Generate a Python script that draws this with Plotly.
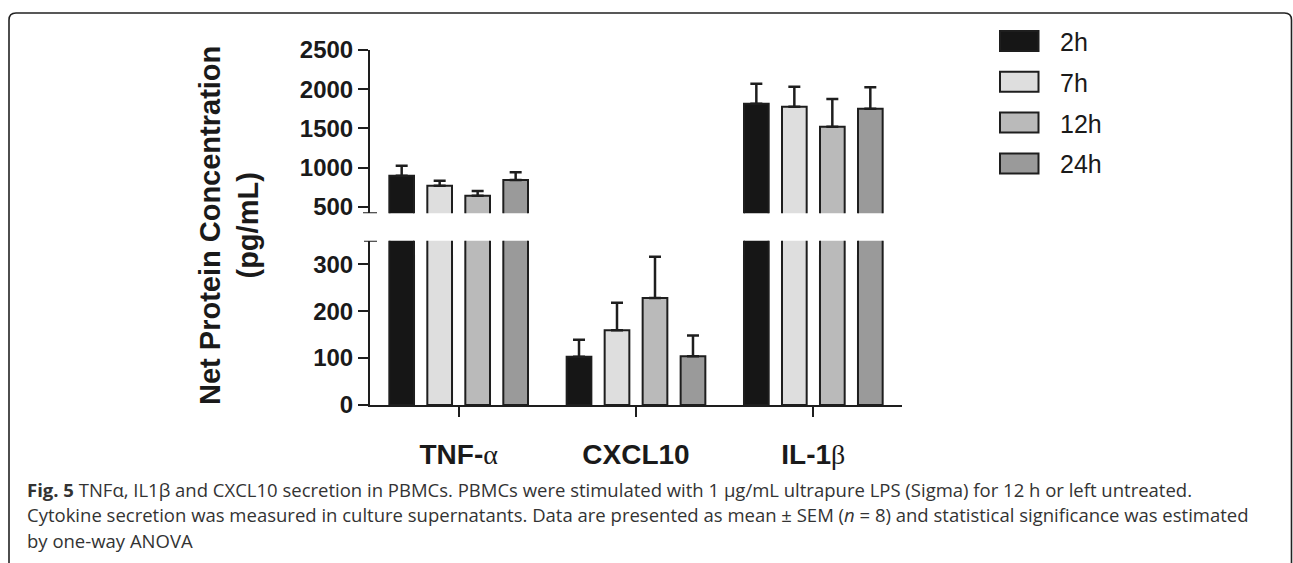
import plotly.graph_objects as go

# ---------------- data ----------------
cytokines = ["TNF-α", "CXCL10", "IL-1β"]
cytokine_labels = [
    "TNF-<span style=\"font-family:Liberation Serif;font-weight:normal\">α</span>",
    "CXCL10",
    "IL-1<span style=\"font-family:Liberation Serif;font-weight:normal\">β</span>",
]
time_points = ["2h", "7h", "12h", "24h"]

mean_2h = [896, 103, 1815]
mean_7h = [768, 159, 1776]
mean_12h = [640, 228, 1521]
mean_24h = [841, 104, 1751]

sem_2h = [127, 36, 255]
sem_7h = [64, 59, 256]
sem_12h = [60, 88, 354]
sem_24h = [98, 44, 273]

lower_ticks = [0, 100, 200, 300]
upper_ticks = [500, 1000, 1500, 2000, 2500]

caption_lines = [
    "<b>Fig. 5</b> TNFα, IL1β and CXCL10 secretion in PBMCs. PBMCs were stimulated with 1 μg/mL ultrapure LPS (Sigma) for 12 h or left untreated.",
    "Cytokine secretion was measured in culture supernatants. Data are presented as mean ± SEM (<i>n</i> = 8) and statistical significance was estimated",
    "by one-way ANOVA",
]

means = [mean_2h, mean_7h, mean_12h, mean_24h]
sems = [sem_2h, sem_7h, sem_12h, sem_24h]
colors = ["#161616", "#dedede", "#bababa", "#9a9a9a"]

# ---------------- geometry ----------------
W, H = 1293, 563
INK = "#1e1e1e"


def px(x):
    return x / W


def py(y):
    return 1 - y / H


LOW_RANGE = [0, 350]
UP_RANGE = [416, 2500]

fig = go.Figure()
for i, tp in enumerate(time_points):
    for yax in ["y", "y2"]:
        fig.add_trace(go.Bar(
            x=cytokines, y=means[i], name=tp,
            xaxis="x", yaxis=yax,
            marker=dict(color=colors[i], line=dict(color=INK, width=2)),
            error_y=dict(type="data", symmetric=False, array=sems[i],
                         arrayminus=[0] * len(sems[i]),
                         color=INK, thickness=2.5, width=6),
            showlegend=False,
        ))

axis_common = dict(showline=True, linecolor=INK, linewidth=2, ticks="outside",
                   ticklen=10, tickwidth=2, tickcolor=INK, showgrid=False,
                   zeroline=False, automargin=False,
                   tickfont=dict(family="Liberation Sans", size=24, color="#1a1a1a", weight="bold"))

fig.update_layout(
    width=W, height=H, autosize=False,
    margin=dict(l=0, r=0, t=0, b=0, pad=0, autoexpand=False),
    paper_bgcolor="white", plot_bgcolor="white",
    barmode="group", bargap=0.143, bargroupgap=0.35,
    xaxis=dict(domain=[px(370), px(902)], range=[-0.5, 2.5], type="category",
               anchor="y", tickvals=cytokines, ticktext=cytokine_labels,
               ticklabelstandoff=13,
               **{k: v for k, v in axis_common.items() if k != "tickfont"},
               tickfont=dict(family="Liberation Sans", size=28, color="#1a1a1a", weight="bold")),
    yaxis=dict(domain=[py(405), py(240.7)], range=LOW_RANGE, tickvals=lower_ticks,
               anchor="x", **axis_common),
    yaxis2=dict(domain=[py(213.3), py(50)], range=UP_RANGE, tickvals=upper_ticks,
                anchor="x", **axis_common),
    showlegend=False,
)

shapes = []
# axis break marks
shapes.append(dict(type="line", xref="paper", yref="y2", x0=px(363), x1=px(377),
                   y0=UP_RANGE[0], y1=UP_RANGE[0], line=dict(color=INK, width=2)))
shapes.append(dict(type="line", xref="paper", yref="y", x0=px(364), x1=px(377),
                   y0=LOW_RANGE[1], y1=LOW_RANGE[1], line=dict(color=INK, width=2)))

# custom legend
annotations = []
for i, tp in enumerate(time_points):
    cy = 41 + i * 40.8
    shapes.append(dict(type="rect", xref="paper", yref="paper",
                       x0=px(1000), x1=px(1038.5), y0=py(cy + 10), y1=py(cy - 10),
                       fillcolor=colors[i], line=dict(color=INK, width=2)))
    annotations.append(dict(xref="paper", yref="paper", x=px(1058), y=py(cy + 1),
                            xanchor="left", yanchor="middle", showarrow=False, text=tp,
                            font=dict(family="Liberation Sans", size=25, color="#1a1a1a")))

# frame (rounded box)
r = 7
fx0, fx1, fy0 = 9, 1291.5, 13
path = (f"M {px(fx0)},{py(H + 5)} L {px(fx0)},{py(fy0 + r)} "
        f"Q {px(fx0)},{py(fy0)} {px(fx0 + r)},{py(fy0)} "
        f"L {px(fx1 - r)},{py(fy0)} Q {px(fx1)},{py(fy0)} {px(fx1)},{py(fy0 + r)} "
        f"L {px(fx1)},{py(H + 5)}")
shapes.append(dict(type="path", xref="paper", yref="paper", path=path,
                   line=dict(color="#222222", width=1.6)))

# y-axis title
annotations.append(dict(xref="paper", yref="paper", x=px(229), y=py(226),
                        xanchor="center", yanchor="middle", textangle=-90, showarrow=False,
                        text="<b>Net Protein Concentration<br>(pg/mL)</b>",
                        font=dict(family="Liberation Sans", size=29, color="#1a1a1a")))

# caption
for j, line in enumerate(caption_lines):
    annotations.append(dict(xref="paper", yref="paper", x=px(25), y=py(489 + j * 25.5),
                            xanchor="left", yanchor="middle", showarrow=False, text=line,
                            font=dict(family="Open Sans", size=18.5, color="#333333")))

fig.update_layout(shapes=shapes, annotations=annotations)

fig.write_html("out.html", post_script="document.body.style.margin='0';",
               config={"displayModeBar": False})
